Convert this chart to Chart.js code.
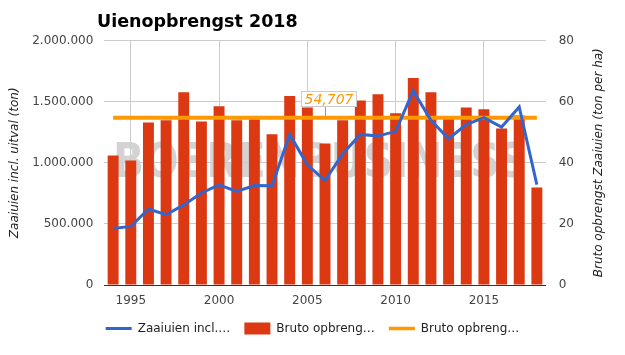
<!DOCTYPE html>
<html><head><meta charset="utf-8">
<script src="https://cdn.jsdelivr.net/npm/chart.js@4"></script>
<style>html,body{margin:0;padding:0;background:#fff;} #wrap{width:625px;height:355px;position:relative;}</style>
</head><body><div id="wrap"><canvas id="c" width="625" height="355"></canvas></div>
<script>
const years = [1994,1995,1996,1997,1998,1999,2000,2001,2002,2003,2004,2005,2006,2007,2008,2009,2010,2011,2012,2013,2014,2015,2016,2017,2018];
const zaaiuien = [462000,479000,622000,575000,655000,753000,819000,766000,813000,811000,1232000,983000,854000,1073000,1232000,1218000,1257000,1588000,1347000,1197000,1312000,1369000,1292000,1456000,821000];
const brutoOpbrengst = [42.4,40.7,53.2,53.9,63.1,53.5,58.5,53.9,54.2,49.3,61.8,58.1,46.3,53.9,60.4,62.4,56.2,67.7,63.1,54.5,58.1,57.5,51.2,55.5,31.9];
const gemiddelde = [54.707,54.707,54.707,54.707,54.707,54.707,54.707,54.707,54.707,54.707,54.707,54.707,54.707,54.707,54.707,54.707,54.707,54.707,54.707,54.707,54.707,54.707,54.707,54.707,54.707];
const leftTicks = [0,500000,1000000,1500000,2000000];
const rightTicks = [0,20,40,60,80];
const legendTexts = ['Zaaiuien incl.…','Bruto opbreng…','Bruto opbreng…'];
const rightTitle = 'Bruto opbrengst Zaaiuien (ton per ha)';
const annotationIndex = 12;

function fmt(v){ return String(v).replace(/\B(?=(\d{3})+(?!\d))/g,'.'); }
const FONT = 'DejaVu Sans';

const watermark = {
  id:'watermark',
  beforeDraw(chart){
    const ctx = chart.ctx; ctx.save();
    ctx.font = 'bold 48px "'+FONT+'"';
    ctx.fillStyle = '#d3d3d3';
    ctx.textAlign = 'center'; ctx.textBaseline = 'alphabetic';
    ctx.fillText('BOERENBUSINESS', 320, 177, 414);
    ctx.restore();
  }
};
const titlePlugin = {
  id:'customTitle',
  afterDraw(chart){
    const ctx = chart.ctx; ctx.save();
    ctx.font = 'bold 17.5px "'+FONT+'"';
    ctx.fillStyle = '#000'; ctx.textAlign='left'; ctx.textBaseline='alphabetic';
    ctx.fillText('Uienopbrengst 2018', 97, 27);
    ctx.restore();
    ctx.save();
    const a = chart.chartArea;
    ctx.translate(599, (a.top + a.bottom)/2);
    ctx.rotate(-Math.PI/2);
    ctx.font = 'italic 12px "'+FONT+'"';
    ctx.fillStyle = '#222'; ctx.textAlign='center'; ctx.textBaseline='middle';
    ctx.fillText(rightTitle, 0, 0);
    ctx.restore();
  }
};
const annotation = {
  id:'annot',
  afterDatasetsDraw(chart){
    const ctx = chart.ctx;
    const x = chart.scales.x.getPixelForValue(annotationIndex);
    const y = chart.scales.y1.getPixelForValue(gemiddelde[annotationIndex]);
    const txt = gemiddelde[annotationIndex].toFixed(3).replace('.',',');
    ctx.save();
    ctx.font = 'italic 14px "'+FONT+'"';
    const tw = ctx.measureText(txt).width;
    const bw = tw + 6, bh = 15;
    const bx = Math.round(x + 3 - bw/2) + 0.5, by = Math.round(y - 26.5) + 0.5;
    ctx.strokeStyle = '#999'; ctx.lineWidth = 1;
    ctx.beginPath(); ctx.moveTo(Math.round(x)+0.5, by+bh); ctx.lineTo(Math.round(x)+0.5, y-2); ctx.stroke();
    ctx.fillStyle = '#fff'; ctx.fillRect(bx, by, bw, bh);
    ctx.strokeStyle = '#ccc'; ctx.strokeRect(bx, by, bw, bh);
    ctx.fillStyle = '#ff9900'; ctx.textAlign='center'; ctx.textBaseline='middle';
    ctx.fillText(txt, bx + bw/2, by + bh/2 + 1);
    ctx.restore();
  }
};

const colors = ['#3366cc','#dc3912','#ff9900'];
new Chart(document.getElementById('c'), {
  type:'bar',
  data:{
    labels: years,
    datasets:[
      {type:'line', label:'Zaaiuien incl. uitval (ton)', data:zaaiuien, yAxisID:'y', borderColor:colors[0], backgroundColor:colors[0], borderWidth:3, pointRadius:0, pointHoverRadius:0, tension:0, order:0},
      {type:'bar', label:'Bruto opbrengst Zaaiuien (ton per ha)', data:brutoOpbrengst, yAxisID:'y1', backgroundColor:colors[1], barPercentage:0.62, categoryPercentage:1, order:2},
      {type:'line', label:'Bruto opbrengst Zaaiuien gemiddeld (ton per ha)', data:gemiddelde, yAxisID:'y1', borderColor:colors[2], backgroundColor:colors[2], borderWidth:4, pointRadius:0, pointHoverRadius:0, tension:0, order:1}
    ]
  },
  options:{
    responsive:false, animation:false, devicePixelRatio:1,
    layout:{padding:{top:40.5, bottom:10.5, left:0, right:0}},
    plugins:{
      title:{display:false}, tooltip:{enabled:false},
      legend:{
        position:'bottom',
        labels:{
          usePointStyle:true, pointStyleWidth:26, boxHeight:13, padding:14,
          font:{family:FONT, size:12}, color:'#222',
          generateLabels(){
            return [
              {text:legendTexts[0], fillStyle:colors[0], strokeStyle:colors[0], lineWidth:3, pointStyle:'line', datasetIndex:0, hidden:false, fontColor:'#222'},
              {text:legendTexts[1], fillStyle:colors[1], strokeStyle:colors[1], lineWidth:0, pointStyle:'rect', datasetIndex:1, hidden:false, fontColor:'#222'},
              {text:legendTexts[2], fillStyle:colors[2], strokeStyle:colors[2], lineWidth:3.5, pointStyle:'line', datasetIndex:2, hidden:false, fontColor:'#222'}
            ];
          }
        }
      }
    },
    scales:{
      x:{
        offset:true,
        grid:{offset:false, drawTicks:false, color:(c)=> (c.tick && years[c.tick.value] % 5 === 0) ? '#cccccc' : 'rgba(0,0,0,0)'},
        border:{color:'#333', width:1},
        ticks:{autoSkip:false, maxRotation:0, padding:9, font:{family:FONT, size:12}, color:'#444',
          callback:(v,i)=> years[i] % 5 === 0 ? String(years[i]) : ''},
        afterFit:(s)=>{ s.height = 23.5; }
      },
      y:{
        position:'left', min:leftTicks[0], max:leftTicks[leftTicks.length-1],
        afterBuildTicks:(s)=>{ s.ticks = leftTicks.map(v=>({value:v})); },
        ticks:{padding:11, font:{family:FONT, size:12}, color:'#444', callback:(v)=>fmt(v)},
        grid:{color:'#cccccc', drawTicks:false},
        border:{display:false},
        title:{display:true, text:'Zaaiuien incl. uitval (ton)', font:{family:FONT, size:12, style:'italic'}, color:'#222', padding:{top:8, bottom:0}},
        afterFit:(s)=>{ s.width = 104.3; }
      },
      y1:{
        position:'right', min:rightTicks[0], max:rightTicks[rightTicks.length-1],
        afterBuildTicks:(s)=>{ s.ticks = rightTicks.map(v=>({value:v})); },
        ticks:{padding:13, font:{family:FONT, size:12}, color:'#444', callback:(v)=>String(v)},
        grid:{drawOnChartArea:false, drawTicks:false},
        border:{display:false},
        title:{display:false},
        afterFit:(s)=>{ s.width = 79.3; }
      }
    }
  },
  plugins:[watermark, titlePlugin, annotation]
});
</script></body></html>
